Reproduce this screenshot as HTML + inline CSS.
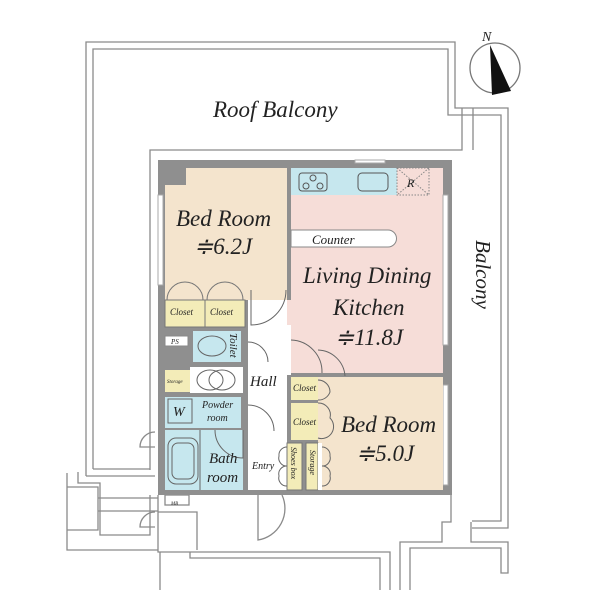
<!DOCTYPE html>
<html><head><meta charset="utf-8"><style>
html,body{margin:0;padding:0;background:#fff;}
svg{display:block;}
text{font-family:"Liberation Serif",serif;font-style:italic;fill:#222;}
</style></head><body>
<svg width="600" height="600" viewBox="0 0 600 600" xmlns="http://www.w3.org/2000/svg">
<g fill="none" stroke="#8a8a8a" stroke-width="1.3">
<polyline points="86,476 86,42 455,42 455,108 508,108 508,528 472,528"/>
<polyline points="93,469 93,49 448,49 448,115 501,115 501,521 472,521"/>
<polyline points="150,470 150,150 462,150 462,108"/>
<line x1="473" y1="108" x2="473" y2="150"/>
<line x1="93" y1="469" x2="150" y2="469"/>
<line x1="86" y1="476" x2="155" y2="476"/>
<polyline points="451,495 451,522 442,522 442,542 400,542 400,590"/>
<polyline points="471,522 471,542 508,542 508,573 501,573 501,548 410,548 410,590"/>
<polyline points="158,495 158,552 390,552 390,590"/>
<polyline points="190,552 190,558 380,558 380,590"/>
<line x1="160" y1="552" x2="160" y2="590"/>
<polyline points="67,473 67,550 158,550"/>
<polyline points="67,487 98,487 98,530 67,530"/>
<polyline points="78,472 78,483 100,483 100,535 150,535 150,495"/>
<line x1="98" y1="498" x2="158" y2="498"/>
<line x1="98" y1="511" x2="158" y2="511"/>
<rect x="165" y="495" width="24" height="10"/>
<polyline points="158,512 197,512 197,550"/>
<path d="M155,512 A15,15 0 0 0 140,527 L155,527"/>
<path d="M155,432 A15,15 0 0 0 140,447 L155,447"/>
<path d="M258,495 L258,540 A32,32 0 0 0 282,495"/>
</g>
<rect x="158" y="160" width="294" height="335" fill="#8f8f8f"/>
<polygon points="186,168 287,168 287,300 165,300 165,185 186,185" fill="#f4e4cd"/>
<rect x="291" y="168" width="152" height="205" fill="#f6ddd8"/>
<rect x="291" y="168" width="106" height="27" fill="#c6e7ee"/>
<rect x="397" y="168" width="32" height="27" fill="#f6ddd8" stroke="#888" stroke-dasharray="1.5,1.5"/>
<line x1="397" y1="168" x2="429" y2="195" stroke="#888" stroke-dasharray="1.5,1.5"/>
<line x1="429" y1="168" x2="397" y2="195" stroke="#888" stroke-dasharray="1.5,1.5"/>
<rect x="443" y="195" width="5" height="150" fill="#fff" stroke="#aaa"/>
<rect x="158" y="195" width="5" height="90" fill="#fff" stroke="#aaa"/>
<rect x="443" y="385" width="5" height="100" fill="#fff" stroke="#aaa"/>
<rect x="355" y="160" width="30" height="3" fill="#fff" stroke="#aaa"/>
<g fill="none" stroke="#555" stroke-width="1">
<rect x="299" y="173" width="28" height="18" rx="3"/>
<circle cx="313" cy="178" r="3"/><circle cx="306" cy="186" r="3"/><circle cx="320" cy="186" r="3"/>
<rect x="358" y="173" width="30" height="18" rx="4"/>
</g>
<path d="M291,230 H388 A8.5,8.5 0 0 1 388,247 H291 Z" fill="#fff" stroke="#888"/>
<rect x="165" y="300" width="40" height="27" fill="#f3ecb8" stroke="#777"/>
<rect x="205" y="300" width="40" height="27" fill="#f3ecb8" stroke="#777"/>
<g fill="none" stroke="#777" stroke-width="1">
<path d="M167,300 A18,18 0 0 1 185,282 A18,18 0 0 1 203,300"/>
<path d="M207,300 A18,18 0 0 1 225,282 A18,18 0 0 1 243,300"/>
</g>
<rect x="248" y="300" width="39" height="190" fill="#fff"/>
<rect x="287" y="300" width="4" height="73" fill="#f6ddd8"/>
<rect x="248" y="325" width="43" height="50" fill="#fff"/>
<rect x="165" y="336" width="23" height="10" fill="#fff" stroke="#888"/>
<rect x="193" y="331" width="48" height="31" fill="#c6e7ee"/>
<rect x="165" y="370" width="25" height="22" fill="#f3ecb8"/>
<rect x="190" y="367" width="53" height="26" fill="#fff"/>
<rect x="165" y="397" width="76" height="31" fill="#c6e7ee"/>
<rect x="168" y="399" width="24" height="24" fill="#c6e7ee" stroke="#666"/>
<rect x="165" y="430" width="78" height="60" fill="#c6e7ee"/>
<rect x="168" y="438" width="30" height="46" rx="8" fill="none" stroke="#666"/>
<rect x="172" y="443" width="22" height="36" rx="6" fill="none" stroke="#666"/>
<line x1="200" y1="430" x2="200" y2="490" stroke="#666"/>
<g fill="none" stroke="#666" stroke-width="1">
<ellipse cx="212" cy="346" rx="14" ry="10"/>
<ellipse cx="210" cy="380" rx="13" ry="10"/><ellipse cx="222" cy="380" rx="13" ry="10"/>
<path d="M243,430 L243,458 A28,28 0 0 1 215,430"/>
</g>
<rect x="322" y="377" width="121" height="113" fill="#f4e4cd"/>
<rect x="291" y="377" width="27" height="23" fill="#f3ecb8"/>
<rect x="291" y="403" width="27" height="37" fill="#f3ecb8"/>
<rect x="318" y="377" width="12" height="113" fill="#f4e4cd"/>
<rect x="287" y="443" width="15" height="47" fill="#f3ecb8" stroke="#777"/>
<rect x="306" y="443" width="12" height="47" fill="#f3ecb8" stroke="#777"/>
<rect x="318" y="443" width="4" height="47" fill="#fff"/>
<g fill="none" stroke="#666" stroke-width="1">
<path d="M251,290 L251,325 A35,35 0 0 0 286,290"/>
<path d="M248,342 A20,20 0 0 1 268,362"/>
<path d="M248,405 A26,26 0 0 1 274,431"/>
<path d="M291,340 A32,32 0 0 1 322,373"/>
<path d="M318,350 A28,28 0 0 1 345,376"/>
<path d="M318,380 A12,12 0 0 1 330,392 A12,12 0 0 1 318,400"/>
<path d="M318,403 A12,12 0 0 1 330,418 A12,12 0 0 1 318,438"/>
<path d="M322,447 A8,8 0 0 1 330,456 A8,8 0 0 1 322,466 A8,8 0 0 1 330,476 A8,8 0 0 1 322,486"/>
<path d="M287,447 A8,8 0 0 0 279,456 A8,8 0 0 0 287,466 A8,8 0 0 0 279,476 A8,8 0 0 0 287,486"/>
</g>
<circle cx="495" cy="68" r="25" fill="#fff" stroke="#777" stroke-width="1.3"/>
<polygon points="490,45 492,95 511,91" fill="#111"/>
<text x="482" y="41" font-size="14">N</text>
<text x="213" y="117" font-size="23">Roof Balcony</text>
<text x="476" y="240" font-size="21" transform="rotate(90 476 240)">Balcony</text>
<text x="176" y="226" font-size="23">Bed Room</text>
<text x="194" y="254" font-size="23">≑6.2J</text>
<text x="312" y="244" font-size="13">Counter</text>
<text x="303" y="283" font-size="23">Living Dining</text>
<text x="333" y="315" font-size="23">Kitchen</text>
<text x="335" y="345" font-size="23">≑11.8J</text>
<text x="341" y="432" font-size="23">Bed Room</text>
<text x="356" y="461" font-size="23">≑5.0J</text>
<text x="170" y="315" font-size="9">Closet</text>
<text x="210" y="315" font-size="9">Closet</text>
<text x="171" y="344" font-size="7">PS</text>
<text x="230" y="333" font-size="11" transform="rotate(90 230 333)">Toilet</text>
<text x="167" y="383" font-size="5">Storage</text>
<text x="250" y="386" font-size="15">Hall</text>
<text x="173" y="416" font-size="14">W</text>
<text x="202" y="408" font-size="10">Powder</text>
<text x="207" y="421" font-size="10">room</text>
<text x="209" y="463" font-size="15">Bath</text>
<text x="207" y="482" font-size="15">room</text>
<text x="252" y="469" font-size="10">Entry</text>
<text x="293" y="391" font-size="9">Closet</text>
<text x="293" y="425" font-size="9">Closet</text>
<text x="291" y="447" font-size="8" transform="rotate(90 291 447)">Shoes box</text>
<text x="310" y="450" font-size="8" transform="rotate(90 310 450)">Storage</text>
<text x="407" y="187" font-size="12">R</text>
<text x="171" y="505" font-size="5" font-style="normal">MB</text>
</svg>
</body></html>
